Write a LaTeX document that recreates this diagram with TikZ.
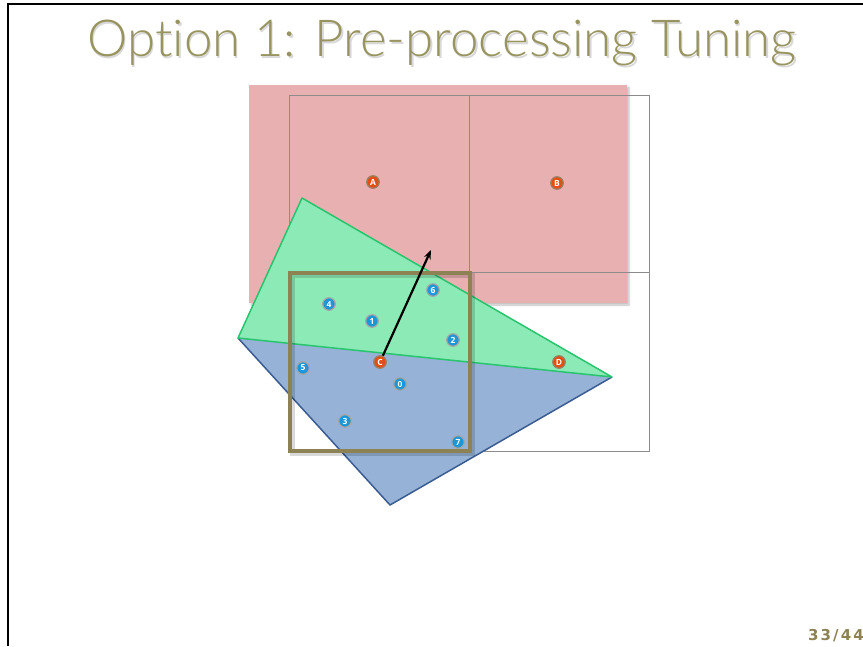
\documentclass[tikz,border=0pt]{standalone}
\usepackage{fontspec}
\setsansfont{Open Sans}
\newfontfamily\titlefont{Lato Light}[Ligatures={NoCommon}]
\newfontfamily\pagefont{DejaVu Sans}[LetterSpace=14]
\usetikzlibrary{shadows.blur,arrows.meta}
\definecolor{pinkfill}{RGB}{232,176,176}
\definecolor{gridgray}{RGB}{140,140,140}
\definecolor{greenfill}{RGB}{139,234,182}
\definecolor{greenedge}{RGB}{40,196,110}
\definecolor{bluefill}{RGB}{150,178,214}
\definecolor{blueedge}{RGB}{58,92,145}
\definecolor{olive}{RGB}{140,130,84}
\definecolor{titleolive}{RGB}{152,148,96}
\definecolor{markred}{RGB}{228,78,18}
\definecolor{markblue}{RGB}{28,150,212}
\tikzset{
  gridline/.style={draw=gridgray, line width=0.9pt},
  dotmark/.style={circle, inner sep=0pt, minimum size=12.5pt, line width=1.2pt,
    font=\sffamily\bfseries\fontsize{8.5}{8.5}\selectfont, text=white},
  redmark/.style={dotmark, fill=markred, draw=gray!60!brown},
  bluemark/.style={dotmark, fill=markblue, draw=gray!70},
}
\begin{document}
\begin{tikzpicture}[x=1pt,y=-1pt]
\useasboundingbox (0,0) rectangle (863,646);
% slide frame
\draw[line width=2.5pt] (8,646) -- (8,4) -- (863,4);
% title
\node[font=\titlefont\fontsize{51}{52}\selectfont, text=black!30, opacity=0.5] at (443.5,44.5) {Option 1: Pre-processing Tuning};
\node[font=\titlefont\fontsize{51}{52}\selectfont, text=titleolive] (title) at (442,43) {Option 1: Pre-processing Tuning};
% shaded region
\fill[pinkfill, blur shadow={shadow xshift=2pt, shadow yshift=-2pt, shadow blur steps=6, shadow opacity=25}] (249,85) rectangle (627,303);
% grid of cells
\draw[gridline] (289,95) rectangle (649,451);
\draw[gridline] (469,95) -- (469,451);
\draw[gridline] (289,272) -- (649,272);
% triangles
\coordinate (p) at (302,198);
\coordinate (q) at (238,338);
\coordinate (r) at (612,377);
\coordinate (s) at (390,505);
\filldraw[fill=bluefill, draw=blueedge, line width=1.5pt, line join=round] (q) -- (s) -- (r);
\fill[greenfill] (p) -- (q) -- (r) -- cycle;
\draw[greenedge, line width=1.5pt, line join=round] (p) -- (q) -- (r) -- cycle;
% query window with a soft offset shadow
\draw[black, opacity=0.15, line width=5pt] (292,275) rectangle (472,453);
\draw[olive, line width=3.5pt] (290,273) rectangle (470,451);
% markers
\node[redmark] (A) at (373,182) {A};
\node[redmark] (B) at (557,183) {B};
\node[redmark] (D) at (559,362) {D};
\node[bluemark] (n0) at (400,384) {0};
\node[bluemark] (n1) at (372,321) {1};
\node[bluemark] (n2) at (453,340) {2};
\node[bluemark] (n3) at (345,421) {3};
\node[bluemark] (n4) at (329,304) {4};
\node[bluemark] (n5) at (303,368) {5};
\node[bluemark] (n6) at (433,290) {6};
\node[bluemark] (n7) at (458,442) {7};
\coordinate (tip) at (431,250);
\draw[line width=2.2pt, -{Stealth[length=9pt,width=7pt]}] (380,362) -- (tip);
\node[redmark] (C) at (380,362) {C};
% page number
\node[font=\pagefont\bfseries\fontsize{15}{15}\selectfont, text=olive, anchor=east, inner sep=0pt] (pg) at (864,636) {33/44};
\end{tikzpicture}
\end{document}
